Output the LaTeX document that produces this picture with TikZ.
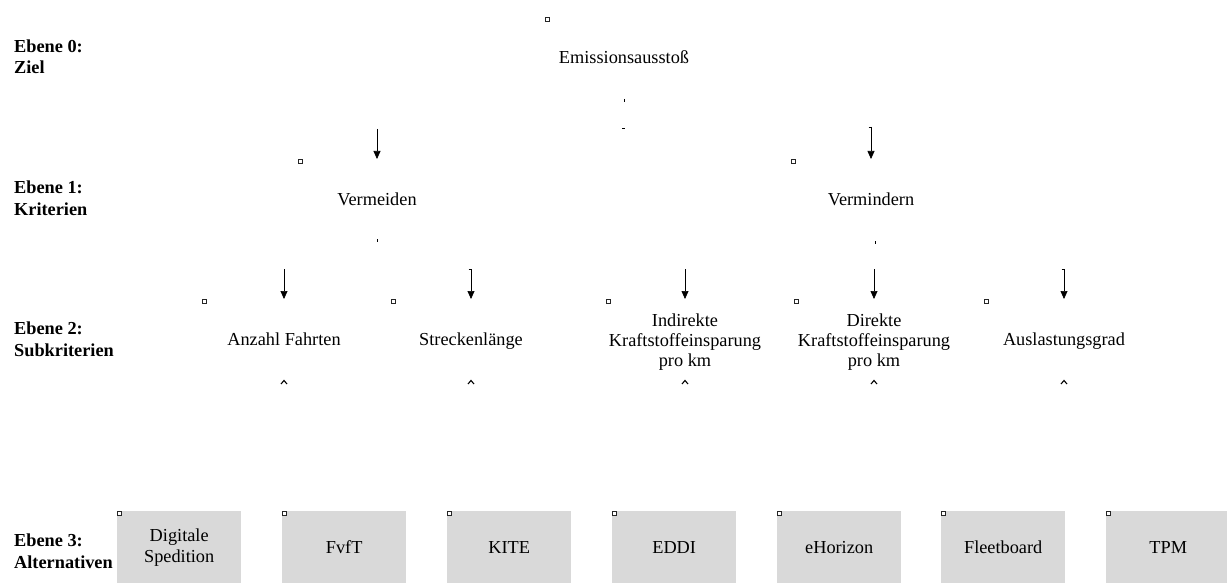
\documentclass[tikz,border=0pt]{standalone}
\usepackage{fontspec}
\setmainfont{Liberation Serif}
\usetikzlibrary{arrows.meta}
\definecolor{boxgray}{HTML}{D9D9D9}
\begin{document}
\begin{tikzpicture}[x=1pt,y=-1pt,
  lbl/.style={font=\fontsize{18.3}{21.5}\selectfont\bfseries, align=left, anchor=base west, inner sep=0pt},
  txt/.style={font=\fontsize{18.3}{20}\selectfont, align=center, anchor=base, inner sep=0pt},
  altbox/.style={fill=boxgray, minimum width=124pt, minimum height=72pt, anchor=north west, inner sep=0pt, font=\fontsize{18.3}{21}\selectfont, align=center},
  mk/.style={draw=black!85, line width=0.9pt, fill=white, minimum size=4pt, inner sep=0pt},
  arr/.style={-{Triangle[length=8pt,width=7pt]}, line width=0.7pt},
  tickmark/.style={line width=0.9pt},
  caretmark/.style={line width=1.1pt}]
\clip (0,0) rectangle (1227,583);
\fill[white] (0,0) rectangle (1227,583);

% level labels (anchor = baseline of the last line)
\node[lbl] (l0) at (14,74) {Ebene 0:\\Ziel};
\node[lbl] (l1) at (14,215) {Ebene 1:\\Kriterien};
\node[lbl] (l2) at (14,356) {Ebene 2:\\Subkriterien};
\node[lbl] (l3) at (14,568) {Ebene 3:\\Alternativen};

% level 0
\node[mk] (m0) at (547,19) {};
\node[txt] (goal) at (624,64) {Emissionsausstoß};
\draw[tickmark] (624,99) -- (624,102);
\draw[tickmark] (622,128.5) -- (624.5,128.5);

% level 1
\node[mk] (m1a) at (300,161) {};
\node[mk] (m1b) at (793,161) {};
\coordinate (a1s) at (377,129); \coordinate (a1e) at (377,159);
\coordinate (a2s) at (871,127); \coordinate (a2e) at (871,159);
\draw[arr] (a1s) -- (a1e);
\draw[arr] (a2s) -- (a2e);
\draw[line width=0.7pt] (868.5,127) -- (a2s);
\node[txt] (verm1) at (377,205) {Vermeiden};
\node[txt] (verm2) at (871,205) {Vermindern};
\draw[tickmark] (377,239) -- (377,242);
\draw[tickmark] (875,241) -- (875,244);

% level 2
\foreach \mx/\ax/\hook [count=\i] in {204/284/0, 393/471/1, 608/685/0, 796/874/0, 986/1064/1}{
  \node[mk] (m2-\i) at (\mx,301) {};
  \coordinate (b\i s) at (\ax,269);
  \coordinate (b\i e) at (\ax,299);
  \draw[arr] (b\i s) -- (b\i e);
  \ifnum\hook=1 \draw[line width=0.7pt] (\ax-2.5,269) -- (b\i s); \fi
  \draw[caretmark] (\ax-3,384) -- (\ax,380.5) -- (\ax+3,384);
}
\node[txt] (s1) at (284,345) {Anzahl Fahrten};
\node[txt] (s2) at (471,345) {Streckenlänge};
\node[txt] (s3) at (685,366) {Indirekte\\Kraftstoffeinsparung\\pro km};
\node[txt] (s4) at (874,366) {Direkte\\Kraftstoffeinsparung\\pro km};
\node[txt] (s5) at (1064,345) {Auslastungsgrad};

% level 3
\foreach \bx/\name/\lab [count=\j] in {117/ds/{Digitale\\Spedition}, 282/fvft/FvfT, 447/kite/KITE, 612/eddi/EDDI, 777/ehor/eHorizon, 941/fleet/Fleetboard, 1106/tpm/TPM}{
  \node[altbox] (\name) at (\bx,511) {\lab};
  \node[mk] (m3-\j) at (\bx+2,513) {};
}
\end{tikzpicture}
\end{document}
